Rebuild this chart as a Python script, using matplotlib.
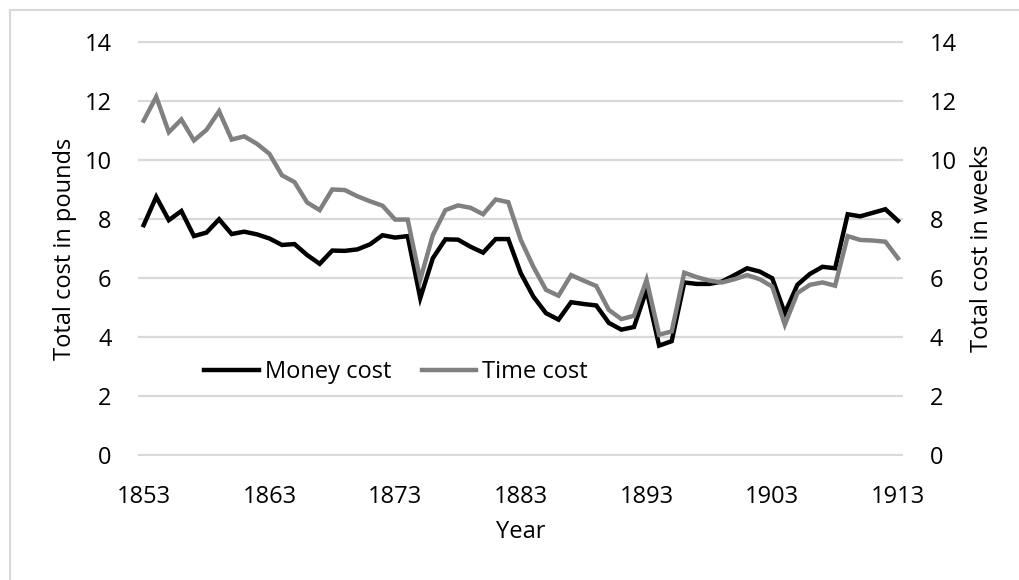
import matplotlib
matplotlib.use("Agg")
import matplotlib.pyplot as plt
from matplotlib.lines import Line2D

years = list(range(1853, 1914))
money_cost = [7.79, 8.75, 7.96, 8.27, 7.42, 7.54, 7.99, 7.49, 7.57, 7.48,
              7.34, 7.12, 7.15, 6.78, 6.48, 6.93, 6.92, 6.97, 7.14, 7.45,
              7.37, 7.42, 5.32, 6.67, 7.31, 7.30, 7.06, 6.86, 7.32, 7.32,
              6.16, 5.37, 4.81, 4.59, 5.18, 5.12, 5.07, 4.48,
              4.25, 4.34, 5.60, 3.71, 3.86, 5.85, 5.80, 5.80, 5.88, 6.10,
              6.33, 6.22, 5.99, 4.81, 5.77, 6.14, 6.38, 6.33, 8.16, 8.09,
              8.21, 8.33, 7.94]
time_cost = [11.33, 12.14, 10.94, 11.37, 10.66, 11.02, 11.65, 10.69, 10.80, 10.55,
             10.21, 9.48, 9.25, 8.56, 8.30, 9.00, 8.98, 8.77, 8.60, 8.45,
             7.98, 7.98, 5.94, 7.45, 8.30, 8.46, 8.38, 8.16, 8.66, 8.57,
             7.29, 6.38, 5.60, 5.40, 6.10, 5.91, 5.73, 4.92,
             4.61, 4.72, 5.94, 4.08, 4.19, 6.18, 6.03, 5.91, 5.85, 5.96,
             6.10, 5.96, 5.71, 4.42, 5.49, 5.77, 5.85, 5.74, 7.42, 7.29,
             7.27, 7.23, 6.67]
x_ticks = [1853, 1863, 1873, 1883, 1893, 1903, 1913]
y_ticks = [0, 2, 4, 6, 8, 10, 12, 14]

plt.rcParams['font.family'] = ['Open Sans', 'DejaVu Sans']
FS = 17

W, H = 1020, 580
fig = plt.figure(figsize=(W / 100, H / 100), dpi=100)
L, R, B, T = 138, 903, 456, 41
ax = fig.add_axes([L / W, 1 - B / H, (R - L) / W, (B - T) / H])
ax2 = ax.twinx()

grid_c = '#d9d9d9'
ax.set_ylim(-0.03, 14.03)
ax2.set_ylim(-0.03, 14.03)
ax.set_xlim(1852.55, 1913.4)
for a in (ax, ax2):
    for s in a.spines.values():
        s.set_visible(False)
    a.set_yticks(y_ticks)
    a.tick_params(length=0, labelsize=FS, colors='black')
ax.set_xticks(x_ticks)
ax.tick_params(axis='x', pad=21)
ax.tick_params(axis='y', pad=19)
ax2.tick_params(axis='y', pad=19)
ax.yaxis.grid(True, color=grid_c, linewidth=1.6)
ax.set_axisbelow(True)

l1, = ax.plot(years, money_cost, color='black', linewidth=3.2,
              solid_joinstyle='miter', label='Money cost')
l2, = ax2.plot(years, time_cost, color='#808080', linewidth=3.2,
               solid_joinstyle='miter', label='Time cost')

ax.set_xlabel('Year', fontsize=FS)
ax.xaxis.set_label_coords(0.5, (B - 532) / (B - T))
ax.xaxis.label.set_va('center')
ax.set_ylabel('Total cost in pounds', fontsize=FS, va='center')
ax.yaxis.set_label_coords((65 - L) / (R - L), 0.5)
ax2.set_ylabel('Total cost in weeks', fontsize=FS, va='center', rotation=90)
ax2.yaxis.set_label_coords((982 - L) / (R - L), 0.5)

leg = ax2.legend(handles=[l1, l2], loc='center', ncol=2, frameon=False,
                 fontsize=FS, handlelength=2.3, handletextpad=0.25,
                 columnspacing=1.3, borderpad=0,
                 bbox_to_anchor=((396 - L) / (R - L), (B - 372) / (B - T)))

fig.add_artist(Line2D([10 / W, 10 / W], [0, 1 - 10 / H], color=grid_c,
                      linewidth=1.5, transform=fig.transFigure))
fig.add_artist(Line2D([10 / W, 1], [1 - 10 / H, 1 - 10 / H], color=grid_c,
                      linewidth=1.5, transform=fig.transFigure))

fig.savefig('out.png', dpi=100)
